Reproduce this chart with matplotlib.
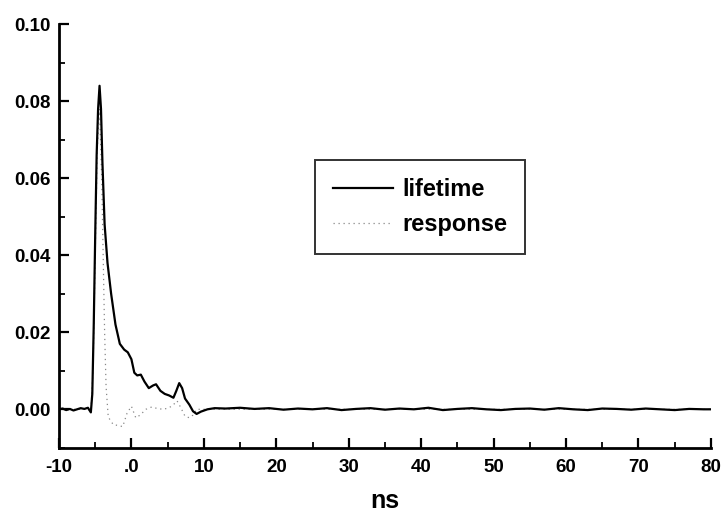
import matplotlib
matplotlib.use("Agg")
import matplotlib.pyplot as plt
from matplotlib.ticker import MultipleLocator, FixedLocator

plt.rcParams['font.family'] = ['Liberation Sans', 'DejaVu Sans']
plt.rcParams['font.weight'] = 'bold'

# lifetime trace (solid)
lifetime_x = [-10, -9.5, -9, -8.5, -8, -7.5, -7, -6.5, -6, -5.6, -5.4, -5.2, -5.0,
              -4.8, -4.6, -4.4, -4.2, -4.0, -3.7, -3.3, -2.8, -2.2, -1.6, -1.0,
              -0.5, 0.0, 0.4, 0.8, 1.3, 1.8, 2.4, 3.0, 3.4, 4.0, 4.6, 5.2, 5.8,
              6.2, 6.6, 7.0, 7.4, 8.0, 8.5, 9.0, 9.6, 10.5, 11.5, 13, 15, 17, 19,
              21, 23, 25, 27, 29, 31, 33, 35, 37, 39, 41, 43, 45, 47, 49, 51, 53,
              55, 57, 59, 61, 63, 65, 67, 69, 71, 73, 75, 77, 79, 80]
lifetime_y = [0.0, 0.0002, -0.0002, 0.0001, -0.0003, 0.0, 0.0003, 0.0001, 0.0004,
              -0.0008, 0.004, 0.022, 0.045, 0.066, 0.078, 0.084, 0.078, 0.064,
              0.048, 0.038, 0.030, 0.022, 0.017, 0.0155, 0.0148, 0.013, 0.0095,
              0.0088, 0.009, 0.0072, 0.0055, 0.0062, 0.0065, 0.0048, 0.0040,
              0.0036, 0.0030, 0.0048, 0.0068, 0.0055, 0.0028, 0.0012, -0.0005,
              -0.0012, -0.0006, 0.0, 0.0003, 0.0002, 0.0004, 0.0001, 0.0003,
              -0.0001, 0.0002, 0.0, 0.0003, -0.0002, 0.0001, 0.0003, -0.0001,
              0.0002, 0.0, 0.0004, -0.0002, 0.0001, 0.0003, 0.0, -0.0002, 0.0001,
              0.0002, -0.0001, 0.0003, 0.0, -0.0002, 0.0002, 0.0001, -0.0001,
              0.0002, 0.0, -0.0002, 0.0001, 0.0, 0.0]

# instrument response (dotted)
response_x = [-10, -8, -6, -5.6, -5.3, -5.0, -4.7, -4.4, -4.1, -3.9, -3.7, -3.5,
              -3.2, -2.5, -1.8, -1.2, -0.6, 0.0, 0.6, 1.2, 2.0, 2.8, 3.6, 4.4,
              5.2, 5.8, 6.3, 6.8, 7.4, 8.0, 8.5, 9.0, 10, 80]
response_y = [0.0, 0.0, 0.0, -0.0005, 0.010, 0.040, 0.068, 0.078, 0.060, 0.040,
              0.020, 0.006, -0.002, -0.004, -0.0042, -0.0045, -0.001, 0.0008,
              -0.0022, -0.0015, 0.0, 0.0006, 0.0002, 0.0, 0.0004, 0.0012, 0.0022,
              0.0005, -0.0018, -0.0022, -0.0015, 0.0, 0.0, 0.0]

x_ticks = [-10, 0, 10, 20, 30, 40, 50, 60, 70, 80]
x_labels = ['-10', '.0', '10', '20', '30', '40', '50', '60', '70', '80']
y_ticks = [0.00, 0.02, 0.04, 0.06, 0.08, 0.10]
y_labels = ['0.00', '0.02', '0.04', '0.06', '0.08', '0.10']

fig = plt.figure(figsize=(7.21, 5.14), dpi=100)
ax = fig.add_subplot(111)
fig.subplots_adjust(left=0.0818, right=0.986, top=0.953, bottom=0.128)

ax.plot(response_x, response_y, color='#888888', linestyle=(0, (1, 3)),
        linewidth=0.9, label='response', zorder=2)
ax.plot(lifetime_x, lifetime_y, color='black', linewidth=1.6,
        label='lifetime', zorder=3)

ax.set_xlim(-10, 80)
ax.set_ylim(-0.0101, 0.10)

ax.spines['top'].set_visible(False)
ax.spines['right'].set_visible(False)
ax.spines['left'].set_linewidth(2.0)
ax.spines['bottom'].set_linewidth(2.0)

ax.xaxis.set_major_locator(FixedLocator(x_ticks))
ax.set_xticklabels(x_labels)
ax.xaxis.set_minor_locator(MultipleLocator(5))
ax.yaxis.set_major_locator(FixedLocator(y_ticks))
ax.set_yticklabels(y_labels)
ax.yaxis.set_minor_locator(MultipleLocator(0.01))

ax.tick_params(which='major', direction='in', length=7, width=1.6,
               labelsize=13.5)
ax.tick_params(axis='x', which='major', pad=8)
ax.tick_params(axis='y', which='major', pad=6)
ax.tick_params(which='minor', direction='in', length=4.5, width=1.3)
for lbl in ax.get_xticklabels() + ax.get_yticklabels():
    lbl.set_fontweight('bold')

ax.set_xlabel('ns', fontsize=18, fontweight='bold', labelpad=9)

handles, labels = ax.get_legend_handles_labels()
leg = ax.legend(handles[::-1], labels[::-1], loc='upper left',
                bbox_to_anchor=(0.393, 0.679), fontsize=17, frameon=True,
                fancybox=False, edgecolor='black', handlelength=2.55,
                handletextpad=0.38, borderpad=0.75, labelspacing=0.5,
                borderaxespad=0)
leg.get_frame().set_linewidth(1.4)
for t in leg.get_texts():
    t.set_fontweight('bold')

fig.savefig('out.png', dpi=100)
